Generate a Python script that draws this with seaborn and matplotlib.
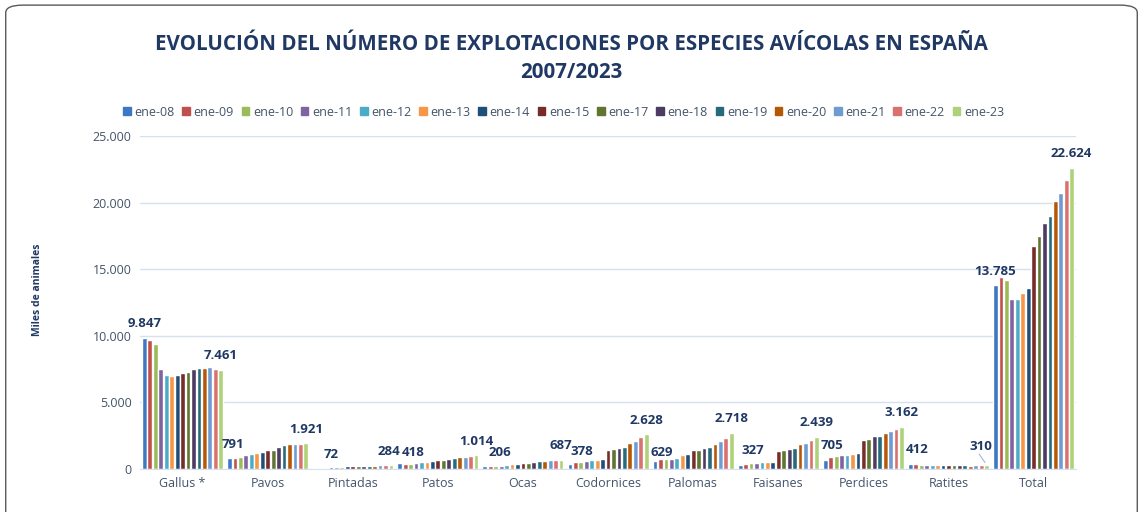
"""
Evolución del número de explotaciones por especies avícolas en España 2007/2023
"""

import matplotlib.pyplot as plt
import matplotlib.patches as mpatches
from matplotlib.ticker import FuncFormatter
import pandas as pd
import seaborn as sns

# Data (miles de animales)
fechas = ['ene-08', 'ene-09', 'ene-10', 'ene-11', 'ene-12', 'ene-13', 'ene-14', 'ene-15',
          'ene-17', 'ene-18', 'ene-19', 'ene-20', 'ene-21', 'ene-22', 'ene-23']
categorias = ['Gallus *', 'Pavos', 'Pintadas', 'Patos', 'Ocas', 'Codornices', 'Palomas',
              'Faisanes', 'Perdices', 'Ratites', 'Total']

gallus = [9847, 9700, 9400, 7500, 7050, 7000, 7050, 7200, 7300, 7500, 7620, 7620, 7650, 7500, 7461]
pavos = [791, 850, 920, 1020, 1120, 1170, 1250, 1400, 1450, 1650, 1770, 1870, 1870, 1870, 1921]
pintadas = [72, 90, 110, 130, 150, 160, 190, 210, 220, 230, 240, 260, 270, 280, 284]
patos = [418, 380, 400, 480, 500, 520, 600, 700, 700, 750, 850, 900, 900, 950, 1014]
ocas = [206, 200, 190, 260, 330, 340, 400, 430, 480, 530, 570, 580, 640, 650, 687]
codornices = [378, 550, 550, 600, 700, 700, 750, 1400, 1480, 1550, 1680, 1930, 2100, 2380, 2628]
palomas = [629, 750, 750, 750, 800, 1050, 1120, 1450, 1450, 1580, 1650, 1880, 2080, 2330, 2718]
faisanes = [327, 400, 420, 450, 520, 520, 550, 1350, 1450, 1500, 1600, 1850, 1950, 2200, 2439]
perdices = [705, 880, 950, 1050, 1050, 1100, 1200, 2150, 2250, 2450, 2500, 2700, 2850, 3000, 3162]
ratites = [412, 400, 330, 330, 320, 320, 310, 320, 310, 310, 310, 260, 310, 320, 310]
total = [13785, 14400, 14200, 12800, 12800, 13200, 13600, 16750, 17500, 18500, 19000, 20100,
         20750, 21700, 22624]

series = [gallus, pavos, pintadas, patos, ocas, codornices, palomas, faisanes, perdices,
          ratites, total]

colores = ['#3F78C2', '#C0504D', '#9BBB59', '#8064A2', '#4BACC6', '#F79646', '#1F4E79',
           '#772C2A', '#5F7530', '#4D3B62', '#276A7C', '#B65708', '#6F9BD1', '#D9716F',
           '#AFD179']

# label offsets in pixels (dx, dy) for a few data labels Excel nudged
ajustes = {('Patos', 0): (13, -3), ('Ocas', 0): (15, 0), ('Codornices', 0): (12, -2),
           ('Palomas', 0): (7, -6), ('Faisanes', 0): (13, 0), ('Perdices', 0): (7, 0),
           ('Ratites', 0): (7, 0), ('Pintadas', 0): (16, 0), ('Pavos', 0): (3, 0),
           ('Pintadas', 1): (-2, 0), ('Ratites', 1): (-6, 4)}

TITULO = '#203864'
TEXTO = '#44546A'

rows = []
for cat, vals in zip(categorias, series):
    for f, v in zip(fechas, vals):
        rows.append({'categoria': cat, 'fecha': f, 'valor': v})
df = pd.DataFrame(rows)

sns.set_style("white")
plt.rcParams['font.family'] = ['Open Sans', 'DejaVu Sans']

fig = plt.figure(figsize=(11.43, 5.12), dpi=100)
ax = fig.add_axes([0.1225, 0.084, 0.819, 0.650])

sns.barplot(data=df, x='categoria', y='valor', hue='fecha', hue_order=fechas,
            order=categorias, palette=colores, width=0.96, gap=0.12,
            saturation=1, legend=False, ax=ax)

ax.set_xlim(-0.5, len(categorias) - 0.5)
ax.set_ylim(0, 25000)
ax.set_yticks(range(0, 25001, 5000))
ax.yaxis.set_major_formatter(FuncFormatter(lambda v, p: f'{int(v):,}'.replace(',', '.')))
ax.grid(axis='y', color='#D6E0EE', linewidth=1)
ax.set_axisbelow(True)
for s in ['top', 'right', 'left']:
    ax.spines[s].set_visible(False)
ax.spines['bottom'].set_color('#D6E0EE')
ax.tick_params(axis='both', length=0, labelsize=9, colors=TEXTO, pad=6)
ax.set_xlabel('')
ax.set_ylabel('')
fig.text(37 / 1143, 1 - 290 / 512, 'Miles de animales', rotation=90, ha='center',
         va='center', fontsize=7.5, fontweight='bold', color=TITULO)

# data labels on first and last year of each group
for idx, cont in [(0, ax.containers[0]), (1, ax.containers[-1])]:
    for cat, bar in zip(categorias, cont):
        v = bar.get_height()
        dx, dy = ajustes.get((cat, idx), (0, 0))
        xc = bar.get_x() + bar.get_width() / 2
        txt = f'{int(round(v)):,}'.replace(',', '.')
        ax.annotate(txt, (xc, v), xytext=(dx, 14 + dy), textcoords='offset pixels',
                    ha='center', va='center', fontsize=9.5, fontweight='bold', color=TITULO)
        if cat == 'Ratites' and idx == 1:
            ax.annotate('', (xc, v), xytext=(dx - 3, 9 + dy), textcoords='offset pixels',
                        arrowprops=dict(arrowstyle='-', color='#9DB9DC', lw=0.8))

# legend
handles = [mpatches.Patch(color=c, label=f) for f, c in zip(fechas, colores)]
fig.legend(handles=handles, loc='center', bbox_to_anchor=(0.493, 0.781), ncol=15,
           frameon=False, fontsize=9, handlelength=0.6, handleheight=0.6,
           handletextpad=0.3, columnspacing=0.62, labelcolor=TEXTO)

fig.text(0.5, 0.913, 'EVOLUCIÓN DEL NÚMERO DE EXPLOTACIONES POR ESPECIES AVÍCOLAS EN ESPAÑA',
         ha='center', va='center', fontsize=14.8, fontweight='bold', color=TITULO)
fig.text(0.5, 0.859, '2007/2023', ha='center', va='center', fontsize=14.8,
         fontweight='bold', color=TITULO)

# rounded frame around the chart
marco = mpatches.FancyBboxPatch((0.005, -0.05), 0.99, 1.04, transform=fig.transFigure,
                                boxstyle='round,pad=0,rounding_size=0.015',
                                fill=False, edgecolor='#595959', linewidth=1)
fig.patches.append(marco)

fig.savefig('out.png', dpi=100)
plt.close()
